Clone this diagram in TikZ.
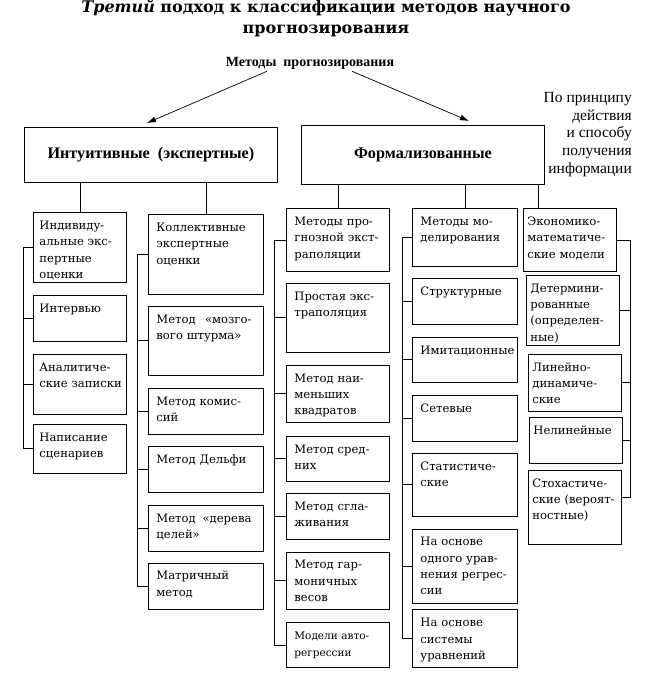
\documentclass[tikz,border=0pt]{standalone}
\usepackage{fontspec}
\setmainfont{DejaVu Serif}
\newfontfamily\headfont{Liberation Serif}
\usepackage{tikz}
\usetikzlibrary{positioning,arrows.meta}

\newcommand{\boxfont}{\fontsize{11.6}{16.3}\selectfont}
\newcommand{\smallboxfont}{\fontsize{10.5}{16.3}\selectfont}
\tikzstyle{line} = [draw, line width=0.8pt]
\tikzstyle{arrow} = [draw, line width=0.7pt, -{Latex[length=9pt,width=6pt]}]
\tikzstyle{block} = [draw, rectangle, line width=0.9pt, align=left, inner xsep=8pt, inner ysep=4pt, text height=13pt, font=\boxfont]
\tikzstyle{group} = [draw, rectangle, line width=0.9pt, anchor=north west, font=\headfont\fontsize{16.2}{20}\selectfont\bfseries]
\tikzstyle{colA} = [block, text width=81pt, inner xsep=6pt]
\tikzstyle{colB} = [block, text width=99pt]
\tikzstyle{colC} = [block, text width=87pt]
\tikzstyle{colD} = [block, text width=89pt]
\tikzstyle{colE} = [block, text width=85pt, inner xsep=4pt]
\tikzset{hgt/.style={text depth={#1pt-21pt}}}

\begin{document}
\begin{tikzpicture}[x=1pt, y=-1pt, node distance=12pt]
    \fill[white] (0,0) rectangle (667,693);
    \useasboundingbox (0,0) rectangle (667,693);

    % heading
    \node[anchor=north, align=center, inner sep=0pt, font=\fontsize{16}{21}\selectfont\bfseries] (title) at (326,-1)
        {\textit{Третий} подход к классификации методов научного\\прогнозирования};
    \node[inner sep=2pt, font=\headfont\fontsize{14}{16}\selectfont\bfseries] (methods) at (310,63) {Методы~~прогнозирования};
    \node[anchor=north east, align=right, inner sep=0pt, font=\headfont\fontsize{15.5}{17.8}\selectfont] (info) at (632,92)
        {По принципу\\действия\\и способу\\получения\\информации};

    % two main groups
    \node[group, minimum width=253pt, minimum height=55pt] (intu) at (24,127) {Интуитивные~~(экспертные)};
    \node[group, minimum width=243pt, minimum height=59pt] (formal) at (301,125) {Формализованные};
    \draw[arrow] ([xshift=-43pt]methods.south) -- ([xshift=-4pt,yshift=4pt]intu.north);
    \draw[arrow] ([xshift=42pt]methods.south) -- ([xshift=46pt,yshift=4pt]formal.north);

    % individual expert methods
    \node[colA, hgt=70, anchor=north west] (a1) at (33,212) {Индивиду-\\альные~экс-\\пертные\\оценки};
    \node[colA, hgt=46, below=12pt of a1] (a2) {Интервью};
    \node[colA, hgt=60, below=12pt of a2] (a3) {Аналитиче-\\ские~записки};
    \node[colA, hgt=49, below=9pt of a3] (a4) {Написание\\сценариев};

    % collective expert methods
    \node[colB, hgt=80, anchor=north west] (b1) at (148,214) {Коллективные\\экспертные\\оценки};
    \node[colB, hgt=69, below=11pt of b1] (b2) {\hbox to 95pt{Метод\hfill«мозго-}\\вого~штурма»};
    \node[colB, hgt=46, below=12pt of b2] (b3) {Метод~комис-\\сий};
    \node[colB, hgt=46, below=11pt of b3] (b4) {Метод~Дельфи};
    \node[colB, hgt=46, below=12pt of b4] (b5) {\hbox to 95pt{Метод\hfill«дерева}\\целей»};
    \node[colB, hgt=46, below=11pt of b5] (b6) {Матричный\\метод};

    % extrapolation
    \node[colC, hgt=63, anchor=north west] (c1) at (286,208) {Методы~про-\\гнозной~экст-\\раполяции};
    \node[colC, hgt=69, below=11pt of c1] (c2) {Простая~экс-\\траполяция};
    \node[colC, hgt=57, below=12pt of c2] (c3) {Метод~наи-\\меньших\\квадратов};
    \node[colC, hgt=45, below=13pt of c3] (c4) {Метод~сред-\\них};
    \node[colC, hgt=46, below=11pt of c4] (c5) {Метод~сгла-\\живания};
    \node[colC, hgt=57, below=12pt of c5] (c6) {Метод~гар-\\моничных\\весов};
    \node[colC, hgt=45, below=13pt of c6, font=\smallboxfont] (c7) {Модели~авто-\\регрессии};

    % modelling
    \node[colD, hgt=58, anchor=north west] (d1) at (412,208) {Методы~мо-\\делирования};
    \node[colD, hgt=46, below=11pt of d1] (d2) {Структурные};
    \node[colD, hgt=45, below=12pt of d2] (d3) {Имитационные};
    \node[colD, hgt=46, below=12pt of d3] (d4) {Сетевые};
    \node[colD, hgt=63, below=11pt of d4] (d5) {Статистиче-\\ские};
    \node[colD, hgt=74, below=12pt of d5] (d6) {На~основе\\одного~урав-\\нения~регрес-\\сии};
    \node[colD, hgt=58, below=6pt of d6] (d7) {На~основе\\системы\\уравнений};

    % economic-mathematical models
    \node[colE, hgt=63, anchor=north west] (e1) at (523,208) {Экономико-\\математиче-\\ские~модели};
    \node[colE, hgt=70, below=3pt of e1, xshift=3pt] (e2) {Детермини-\\рованные\\(определен-\\ные)};
    \node[colE, hgt=57, below=8pt of e2, xshift=2pt] (e3) {Линейно-\\динамиче-\\ские};
    \node[colE, hgt=46, below=5pt of e3, xshift=1pt] (e4) {Нелинейные};
    \node[colE, hgt=74, below=6pt of e4, xshift=-1pt] (e5) {Стохастиче-\\ские~(вероят-\\ностные)};

    % stems from the groups
    \coordinate (e1top) at ([xshift=15pt]e1.north west);
    \draw[line] (intu.south -| a1) -- (a1);
    \draw[line] (intu.south -| b1) -- (b1);
    \draw[line] (formal.south -| c1) -- (c1);
    \draw[line] (formal.south -| d1) -- (d1);
    \draw[line] (formal.south -| e1top) -- (e1top);

    % brackets
    \coordinate (sA) at (23,0);
    \coordinate (sB) at (137,0);
    \coordinate (sC) at (274,0);
    \coordinate (sD) at (402,0);
    \coordinate (sE) at (630,0);
    \draw[line] (a1.west) -- (a1.west -| sA) -- (a4.west -| sA) -- (a4.west);
    \foreach \n in {a2,a3} \draw[line] (\n.west) -- (\n.west -| sA);
    \draw[line] (b1.west) -- (b1.west -| sB) -- (b6.west -| sB) -- (b6.west);
    \foreach \n in {b2,b3,b4,b5} \draw[line] (\n.west) -- (\n.west -| sB);
    \draw[line] (c1.west) -- (c1.west -| sC) -- (c7.west -| sC) -- (c7.west);
    \foreach \n in {c2,c3,c4,c5,c6} \draw[line] (\n.west) -- (\n.west -| sC);
    \draw[line] (d1.west) -- (d1.west -| sD) -- (d7.west -| sD) -- (d7.west);
    \foreach \n in {d2,d3,d4,d5,d6} \draw[line] (\n.west) -- (\n.west -| sD);
    \draw[line] (e1.east) -- (e1.east -| sE) -- ([yshift=10pt]e5.east -| sE) -- ([yshift=10pt]e5.east);
    \foreach \n in {e2,e3,e4} \draw[line] (\n.east) -- (\n.east -| sE);
\end{tikzpicture}
\end{document}
